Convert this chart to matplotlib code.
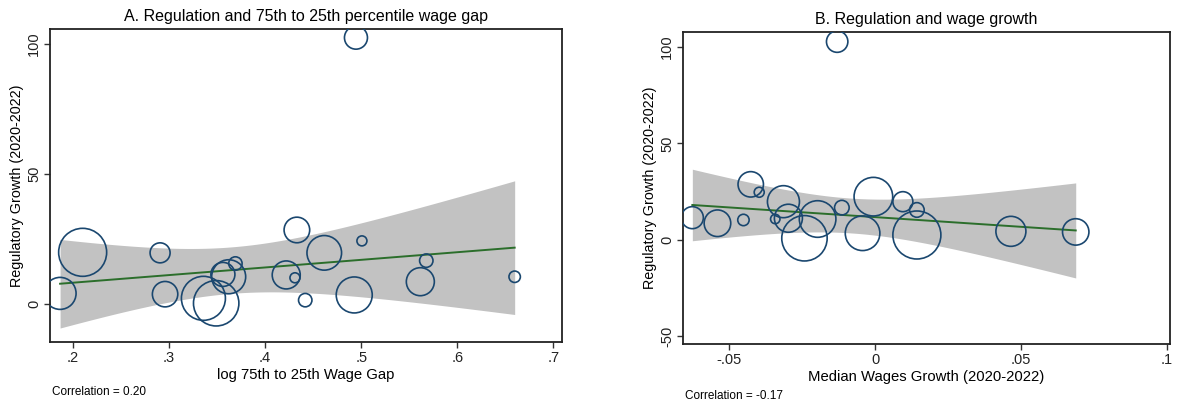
import numpy as np
import matplotlib
matplotlib.use("Agg")
import matplotlib.pyplot as plt

plt.rcParams['font.family'] = ['Liberation Sans', 'DejaVu Sans']

# Panel A: log 75th to 25th wage gap vs regulatory growth
gap_x = [0.4945, 0.210, 0.1865, 0.2906, 0.2958, 0.3357, 0.349, 0.356, 0.362, 0.369,
         0.4219, 0.431, 0.433, 0.4417, 0.4615, 0.4927, 0.5007, 0.5615, 0.5677, 0.6597]
gap_y = [102.5, 19.9, 4.1, 19.7, 3.8, 2.2, 0.3, 11.4, 10.5, 15.6,
         11.2, 10.1, 28.5, 1.5, 19.7, 3.5, 24.3, 8.6, 16.7, 10.5]
gap_r = [11.5, 24, 16, 10, 12.7, 22, 22.7, 12, 17, 6.7,
         14, 5, 12.8, 6.7, 17.3, 18, 5, 14, 6.7, 5.7]

# Panel B: median wage growth vs regulatory growth
wg_x = [-0.0130, -0.0006, 0.0465, 0.0095, 0.0687, 0.0143, -0.0242, -0.0297, -0.0197, 0.0143,
        -0.0626, -0.0342, -0.0426, -0.0314, -0.0043, -0.0397, -0.0540, -0.0114, -0.0451]
wg_y = [102.8, 22.3, 4.3, 19.7, 4.0, 2.4, 0.7, 11.1, 10.7, 15.4,
        11.4, 10.7, 28.7, 19.7, 3.3, 24.6, 8.5, 16.6, 10.2]
wg_r = [10.7, 19.3, 15, 10, 13.2, 24, 22.7, 14, 18.3, 7.3,
        11, 4.7, 12.7, 16, 17.3, 5, 13.3, 7.3, 5.7]

navy = '#1a476f'
green = '#2b6e2b'
band = '#c2c2c2'


def fit_ci(x, y, w):
    # weighted linear fit with 95% CI of the mean (like Stata lfitci with aweights)
    x = np.asarray(x)
    y = np.asarray(y)
    w = np.asarray(w, dtype=float)
    n = len(x)
    w = w * n / w.sum()
    xm = np.sum(w * x) / w.sum()
    ym = np.sum(w * y) / w.sum()
    sxx = np.sum(w * (x - xm) ** 2)
    b = np.sum(w * (x - xm) * (y - ym)) / sxx
    a = ym - b * xm
    resid = y - (a + b * x)
    s = np.sqrt(np.sum(w * resid ** 2) / (n - 2))
    t = {17: 2.110, 18: 2.101}[n - 2]
    xs = np.linspace(x.min(), x.max(), 200)
    yhat = a + b * xs
    se = s * np.sqrt(1.0 / w.sum() + (xs - xm) ** 2 / sxx)
    return xs, yhat, yhat - t * se, yhat + t * se


def panel(ax, x, y, rad, title, xlabel, xticks, xticklabels, yticks, xlim, ylim):
    rad = np.asarray(rad)
    xs, yhat, lo, hi = fit_ci(x, y, rad ** 2)
    ax.fill_between(xs, lo, hi, color=band, linewidth=0, zorder=1)
    ax.plot(xs, yhat, color=green, linewidth=1.4, zorder=2)
    ax.scatter(x, y, s=(1.44 * rad) ** 2, facecolors='none',
               edgecolors=navy, linewidths=1.2, zorder=3)
    ax.set_xlim(xlim)
    ax.set_ylim(ylim)
    ax.set_xticks(xticks)
    ax.set_xticklabels(xticklabels)
    ax.set_yticks(yticks)
    ax.set_yticklabels([str(v) for v in yticks], rotation=90, va='center')
    ax.set_title(title, fontsize=11.5, pad=5.5)
    ax.set_xlabel(xlabel, fontsize=10.7, labelpad=2)
    ax.set_ylabel('Regulatory Growth (2020-2022)', fontsize=10.4, labelpad=2)
    ax.tick_params(direction='out', length=4, width=1, labelsize=10.5, colors='#333333',
                   labelcolor='#222222', pad=2.5)
    for sp in ax.spines.values():
        sp.set_linewidth(1.3)
        sp.set_color('#222222')


fig = plt.figure(figsize=(11.79, 4.04), dpi=100)
ax1 = fig.add_axes([0.0424, 0.1535, 0.4343, 0.7745])
ax2 = fig.add_axes([0.5793, 0.1485, 0.4131, 0.7723])

panel(ax1, gap_x, gap_y, gap_r, 'A. Regulation and 75th to 25th percentile wage gap',
      'log 75th to 25th Wage Gap', [0.2, 0.3, 0.4, 0.5, 0.6, 0.7],
      ['.2', '.3', '.4', '.5', '.6', '.7'], [0, 50, 100], (0.176, 0.709), (-14.6, 105.8))
panel(ax2, wg_x, wg_y, wg_r, 'B. Regulation and wage growth',
      'Median Wages Growth (2020-2022)', [-0.05, 0, 0.05, 0.1],
      ['-.05', '0', '.05', '.1'], [-50, 0, 50, 100], (-0.0658, 0.101), (-54.2, 107.8))

fig.text(0.044, 0.0297, 'Correlation = 0.20', fontsize=8.5, va='center')
fig.text(0.581, 0.0198, 'Correlation = -0.17', fontsize=8.5, va='center')

fig.savefig('out.png', dpi=100)
